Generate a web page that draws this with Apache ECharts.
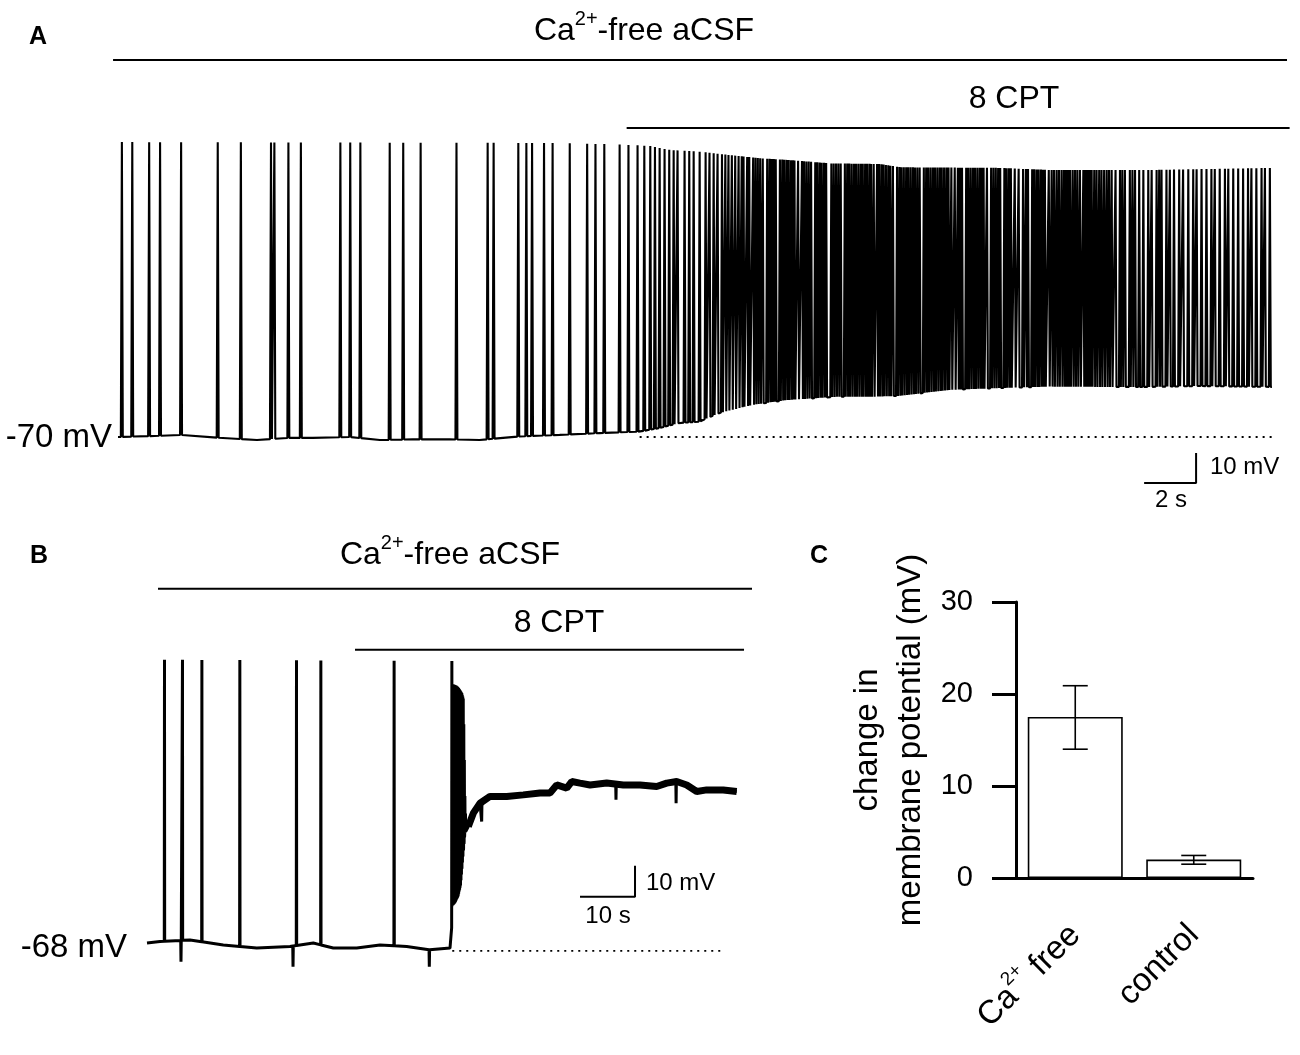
<!DOCTYPE html>
<html>
<head>
<meta charset="utf-8">
<title>Ca2+-free aCSF and 8 CPT</title>
<script src="https://cdn.jsdelivr.net/npm/echarts@6.0.0/dist/echarts.min.js"></script>
<style>
  html, body { margin: 0; padding: 0; background: #fff; }
  #chart { width: 1300px; height: 1055px; }
</style>
</head>
<body>
<div id="chart"></div>
<script>
var FONT = '"Liberation Sans", Arial, Helvetica, sans-serif';

// ---------- panel A (time in s, potential in mV)
// spike times
var aSpikeTimes = [
  0.12, 0.52, 1.17, 1.59, 2.40, 3.81, 4.70, 5.86, 5.99, 6.53, 7.01, 8.53, 8.91, 9.30,
  10.43, 10.95, 11.62, 13.00, 14.20, 14.43, 15.38, 15.69, 15.91, 16.37, 16.70, 17.36,
  18.03, 18.35, 18.69, 19.28, 19.62, 19.97, 20.23, 20.46, 20.64, 20.82, 21.01, 21.19,
  21.36, 21.51, 21.78, 21.96, 22.13, 22.36, 22.59, 22.74, 22.90, 23.05, 23.22, 23.35,
  23.47, 23.60, 23.73, 23.86,
  23.98, 24.05, 24.19, 24.27, 24.42, 24.51, 24.60, 24.69, 24.79, 24.96, 25.05, 25.13,
  25.21, 25.29, 25.45, 25.54, 25.62, 25.71, 25.79, 25.88, 25.96, 26.01, 26.15, 26.30,
  26.38, 26.47, 26.56, 26.65, 26.81, 26.89, 26.98, 27.06, 27.15, 27.23, 27.43, 27.52,
  27.61, 27.70, 27.79, 27.95, 28.04, 28.12, 28.21, 28.30, 28.38, 28.47, 28.56, 28.64,
  28.73, 28.81, 28.90, 28.96, 29.06, 29.19, 29.27, 29.36, 29.44, 29.53, 29.62, 29.70,
  29.80, 29.96, 30.05, 30.13, 30.22, 30.31, 30.39, 30.48, 30.57, 30.65, 30.74, 30.83,
  30.99, 31.08, 31.16, 31.25, 31.34, 31.42, 31.51, 31.60, 31.68, 31.77, 31.86, 31.94,
  32.05, 32.18, 32.30, 32.38, 32.46, 32.62, 32.70, 32.79, 32.88, 32.96, 33.05, 33.14,
  33.22, 33.29, 33.42, 33.58, 33.67, 33.76, 33.85, 33.93, 34.09, 34.17, 34.26, 34.34,
  34.49, 34.64, 34.81, 34.92, 35.00, 35.16, 35.24, 35.33, 35.41, 35.50, 35.58, 35.65,
  35.80,
  35.91, 36.00, 36.10, 36.19, 36.29, 36.38, 36.46, 36.54, 36.62, 36.72, 36.81, 36.90,
  37.00, 37.13, 37.21, 37.29, 37.37, 37.45, 37.55, 37.64, 37.74, 37.83, 37.93, 38.03,
  38.12, 38.22, 38.37, 38.54, 38.63, 38.73, 38.92, 39.02, 39.12, 39.28, 39.44, 39.63,
  39.76, 39.95, 40.05, 40.14, 40.33, 40.46, 40.62, 40.82, 40.97, 41.17, 41.36, 41.49,
  41.68, 41.87, 42.06, 42.19, 42.38, 42.58, 42.71, 42.90, 43.09, 43.28, 43.47, 43.60,
  43.79, 43.99, 44.12, 44.31
];
// membrane potential between spikes
var aTroughs = [
  [0, -70.0], [1.23, -69.7], [2.5, -69.3], [3.92, -70.3], [5.35, -71.0], [6.6, -70.3],
  [7.5, -70.3], [8.92, -70.0], [10.08, -71.0], [11.35, -70.8], [12.77, -70.8],
  [13.92, -71.0], [15.46, -69.8], [17.0, -69.3], [18.54, -68.7], [20.08, -68.2],
  [20.85, -67.0], [21.62, -65.3], [22.38, -64.9], [23.15, -62.0], [24.42, -59.3],
  [25.73, -57.7], [27.65, -56.6], [28.92, -56.6], [30.08, -56.3], [32.0, -54.3],
  [33.92, -53.7], [35.85, -53.2], [37.77, -53.3], [39.69, -53.3], [41.62, -53.0],
  [44.42, -53.3]
];
// spike peak level
var aPeaks = [
  [0, 28.3], [17.0, 28.0], [19.3, 27.5], [20.46, 27.0], [21.2, 25.7], [22.36, 25.1],
  [23.5, 24.0], [24.7, 22.9], [25.85, 22.3], [27.4, 21.2], [29.3, 21.0], [30.1, 19.9],
  [33.9, 19.7], [35.85, 19.0], [39.7, 19.0], [44.42, 19.7]
];
var aEnd = 44.42;
var aCsfBar = [[-0.19, 55.7], [45.0, 55.7]];
var aCptBar = [[19.58, 33], [45.1, 33]];
var aRestLine = [[20.08, -70], [44.5, -70]];
var aScaleBar = [[39.5, -85.3], [41.5, -85.3], [41.5, -75.3]];

// ---------- panel B
var bSpikeTimes = [
  3.15, 6.42, 9.95, 16.85, 27.15, 31.58, 44.9, 55.4,
  55.55, 55.63, 55.71, 55.79, 55.87, 55.95, 56.03, 56.11, 56.19, 56.27, 56.36, 56.44,
  56.52, 56.60, 56.69, 56.77, 56.85, 56.94, 57.02, 57.11, 57.20, 57.29, 57.38, 57.47,
  57.57, 57.67, 57.77, 57.88
];
var bBaseline = [
  [0, -65.5], [2.36, -65.0], [7.82, -64.5], [13.87, -66.1], [19.95, -67.1], [26.0, -66.6],
  [30.24, -65.5], [33.87, -67.1], [38.13, -67.1], [42.36, -66.1], [47.22, -66.6],
  [51.45, -67.7], [55.09, -67.1], [55.35, -67.5]
];
var bBurstTroughs = [
  [55.45, -53.7], [56.0, -52.5], [56.55, -50.5], [57.0, -47.0], [57.2, -42.9],
  [57.5, -36.4], [57.8, -30.0]
];
var bPlateau = [
  [58.42, -27.9], [59.33, -23.6], [60.55, -20.4], [62.36, -18.2], [65.4, -18.2],
  [68.42, -17.7], [71.45, -17.1], [73.27, -17.1], [74.49, -14.5], [76.31, -15.5],
  [77.22, -13.4], [78.73, -13.9], [80.55, -14.5], [83.58, -13.9], [86.6, -14.5],
  [89.64, -14.5], [92.67, -15.0], [94.49, -13.9], [96.31, -13.4], [98.13, -14.5],
  [99.95, -16.6], [101.76, -16.1], [104.78, -16.1], [107.22, -16.6]
];
var bPeaks = [
  [0, 25.9], [55.4, 25.5], [55.55, 18.0], [56.2, 17.5], [56.6, 16.8], [57.2, 15.2],
  [57.5, 13.2], [57.8, -21.5], [58.0, -27]
];
var bDips = [
  [6.18, -71.5], [26.55, -73.1], [51.33, -73.1], [60.85, -26.3], [85.27, -19.3], [96.2, -20.4]
];
var bEnd = 107.3;
var bCsfBar = [[2.0, 48.8], [110.0, 48.8]];
var bCptBar = [[37.82, 29.1], [108.55, 29.1]];
var bRestLine = [[55.5, -68], [105.0, -68]];
var bScaleBar = [[78.73, -50.6], [88.73, -50.6], [88.73, -40.6]];

// ---------- panel C
var cCategories = ['Ca2+ free', 'control'];
var cMeans = [17.5, 2.0];
var cLow = [14.0, 1.5];
var cHigh = [20.9, 2.45];
var cTicks = [0, 30, 10];  // min, max, step

function interp(pts, t) {
  if (t <= pts[0][0]) return pts[0][1];
  for (var i = 1; i < pts.length; i++) {
    if (t <= pts[i][0]) {
      var a = pts[i - 1], b = pts[i];
      return a[1] + (b[1] - a[1]) * (t - a[0]) / (b[0] - a[0]);
    }
  }
  return pts[pts.length - 1][1];
}

// merge the read levels, spikes and dips into one trace
function buildTrace(troughs, peaks, spikes, dips, tEnd) {
  var pts = [];
  function busy(t) {
    return spikes.some(function (s) { return t > s - 0.02 && t < s + 0.08; }) ||
      dips.some(function (d) { return Math.abs(t - d[0]) < 0.08; });
  }
  troughs.forEach(function (p) {
    if (p[0] < tEnd && !busy(p[0])) pts.push([p[0], p[1]]);
  });
  spikes.forEach(function (s) {
    pts.push([s - 0.01, interp(troughs, s)]);
    pts.push([s + 0.03, interp(peaks, s)]);
    pts.push([s + 0.065, interp(troughs, s + 0.065)]);
  });
  dips.forEach(function (d) {
    pts.push([d[0] - 0.05, interp(troughs, d[0])]);
    pts.push([d[0], d[1]]);
    pts.push([d[0] + 0.05, interp(troughs, d[0])]);
  });
  pts.push([tEnd, interp(troughs, tEnd)]);
  pts.sort(function (a, b) { return a[0] - b[0]; });
  return pts;
}

var aTrace = buildTrace(aTroughs, aPeaks, aSpikeTimes, [], aEnd);
var bTroughs = bBaseline.concat(bBurstTroughs, bPlateau);
var bTrace = buildTrace(bTroughs, bPeaks, bSpikeTimes, bDips, bEnd);

function lineSeries(name, data, gi, style) {
  return {
    name: name, type: 'line', data: data,
    xAxisIndex: gi, yAxisIndex: gi,
    symbol: 'none', silent: true,
    lineStyle: Object.assign({ color: '#000', width: 1.4, join: 'bevel' }, style || {}),
    animation: false
  };
}

function txt(x, y, text, size, align, extra) {
  return {
    type: 'text', x: x, y: y, silent: true,
    style: Object.assign({
      text: text, fontSize: size, fontFamily: FONT, fill: '#000',
      align: align, textAlign: align, verticalAlign: 'middle', textVerticalAlign: 'middle'
    }, extra || {})
  };
}

// superscript via rich text: tall box for normal text, small box pinned at the top
function supRich(big, small) {
  return {
    n: { fontSize: big, lineHeight: big + 12, fontFamily: FONT, color: '#000', fill: '#000' },
    s: { fontSize: small, lineHeight: small, fontFamily: FONT, color: '#000', fill: '#000', verticalAlign: 'top' }
  };
}

var chart = echarts.init(document.getElementById('chart'), null, { renderer: 'canvas' });

var option = {
  backgroundColor: '#fff',
  animation: false,
  grid: [
    { left: 105, top: 32, width: 1196, height: 480 },
    { left: 147, top: 585, width: 610.5, height: 403 },
    { left: 1016, top: 602, width: 237, height: 276 }
  ],
  xAxis: [
    { gridIndex: 0, type: 'value', min: -0.5, max: 45.5, show: false },
    { gridIndex: 1, type: 'value', min: 0, max: 111, show: false },
    {
      gridIndex: 2, type: 'category', data: cCategories,
      axisLine: { lineStyle: { color: '#000', width: 3 } },
      axisTick: { alignWithLabel: true, length: 24, lineStyle: { color: '#000', width: 3 } },
      axisLabel: {
        interval: 0, rotate: 45, margin: 52, color: '#000',
        formatter: function (v) {
          return v === 'Ca2+ free' ? '{n|Ca}{s|2+}{n| free}' : '{n|' + v + '}';
        },
        rich: supRich(33, 19)
      }
    }
  ],
  yAxis: [
    { gridIndex: 0, type: 'value', min: -95, max: 65, show: false },
    { gridIndex: 1, type: 'value', min: -80, max: 50, show: false },
    {
      gridIndex: 2, type: 'value', min: cTicks[0], max: cTicks[1], interval: cTicks[2],
      name: 'change in\nmembrane potential (mV)',
      nameLocation: 'middle', nameRotate: 90, nameGap: 84,
      nameTextStyle: { fontSize: 33, lineHeight: 43, color: '#000', fontFamily: FONT },
      axisLine: { show: true, lineStyle: { color: '#000', width: 3 } },
      axisTick: { show: true, length: 24, lineStyle: { color: '#000', width: 3 } },
      axisLabel: { fontSize: 29, color: '#000', fontFamily: FONT, margin: 43 },
      splitLine: { show: false }
    }
  ],
  series: [
    lineSeries('A trace', aTrace, 0, { width: 2.1 }),
    lineSeries('A rest', aRestLine, 0, { width: 1.8, type: [2, 5] }),
    lineSeries('A aCSF', aCsfBar, 0, { width: 2 }),
    lineSeries('A CPT', aCptBar, 0, { width: 2 }),
    lineSeries('A scale', aScaleBar, 0, { width: 2 }),
    lineSeries('B trace', bTrace, 1, { width: 3 }),
    lineSeries('B plateau', bPlateau, 1, { width: 7 }),
    lineSeries('B rest', bRestLine, 1, { width: 1.8, type: [2, 5] }),
    lineSeries('B aCSF', bCsfBar, 1, { width: 2 }),
    lineSeries('B CPT', bCptBar, 1, { width: 2 }),
    lineSeries('B scale', bScaleBar, 1, { width: 2 }),
    {
      name: 'mean', type: 'bar', xAxisIndex: 2, yAxisIndex: 2, data: cMeans,
      barWidth: 95, silent: true,
      itemStyle: { color: '#fff', borderColor: '#000', borderWidth: 1.6 }
    },
    {
      name: 'sem', type: 'custom', xAxisIndex: 2, yAxisIndex: 2, silent: true, z: 5,
      data: cCategories.map(function (c, i) { return [i, cLow[i], cHigh[i]]; }),
      renderItem: function (params, api) {
        var lo = api.coord([api.value(0), api.value(1)]);
        var hi = api.coord([api.value(0), api.value(2)]);
        var half = 12.5;
        var st = { stroke: '#000', lineWidth: 1.6 };
        return {
          type: 'group', children: [
            { type: 'line', shape: { x1: lo[0], y1: lo[1], x2: hi[0], y2: hi[1] }, style: st },
            { type: 'line', shape: { x1: lo[0] - half, y1: lo[1], x2: lo[0] + half, y2: lo[1] }, style: st },
            { type: 'line', shape: { x1: hi[0] - half, y1: hi[1], x2: hi[0] + half, y2: hi[1] }, style: st }
          ]
        };
      }
    }
  ],
  graphic: [
    txt(29, 37, 'A', 25, 'left', { fontWeight: 'bold' }),
    txt(644, 31, '{n|Ca}{s|2+}{n|-free aCSF}', 32, 'center', { rich: supRich(32, 20) }),
    txt(1014, 99, '8 CPT', 32, 'center'),
    txt(112, 438, '-70 mV', 33, 'right'),
    txt(1210, 467, '10 mV', 24, 'left'),
    txt(1171, 500, '2 s', 24, 'center'),
    txt(30, 556, 'B', 25, 'left', { fontWeight: 'bold' }),
    txt(450, 555, '{n|Ca}{s|2+}{n|-free aCSF}', 32, 'center', { rich: supRich(32, 20) }),
    txt(559, 623, '8 CPT', 32, 'center'),
    txt(127, 948, '-68 mV', 33, 'right'),
    txt(646, 883, '10 mV', 24, 'left'),
    txt(608, 916, '10 s', 24, 'center'),
    txt(810, 556, 'C', 25, 'left', { fontWeight: 'bold' })
  ]
};

chart.setOption(option);
</script>
</body>
</html>
